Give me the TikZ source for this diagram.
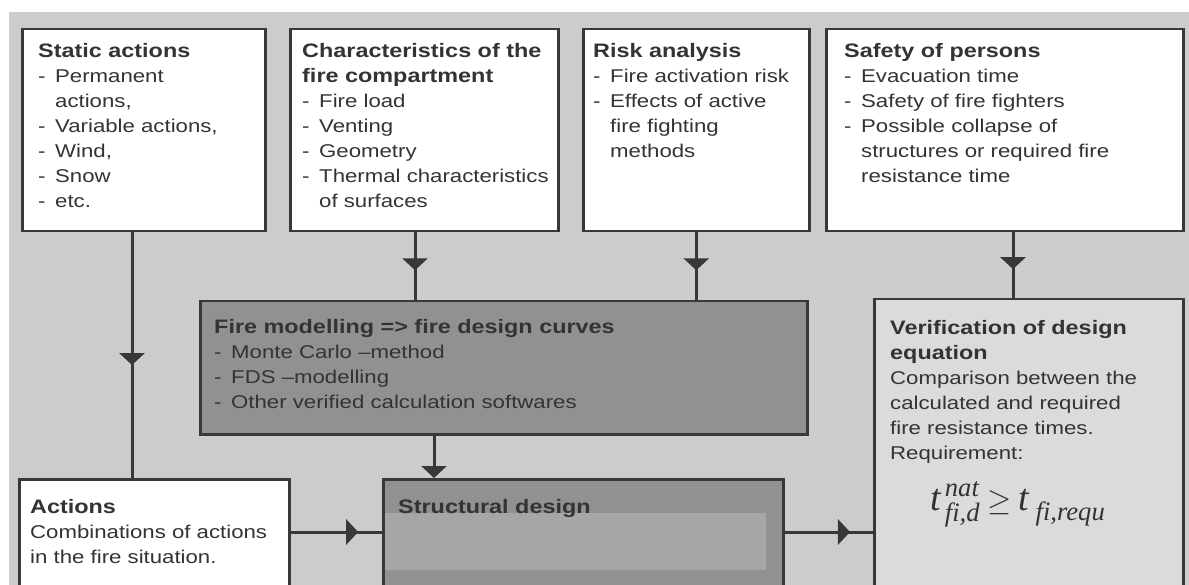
\documentclass[tikz,border=0pt]{standalone}
\usepackage{amsmath}
\usepackage{fontspec}
\setmainfont{Liberation Sans}[FakeStretch=1.2]
\newfontfamily\tmsfont{Liberation Serif}
\usetikzlibrary{arrows.meta,decorations.markings}

\definecolor{bgc}{gray}{0.80}
\definecolor{linec}{gray}{0.22}
\definecolor{txtc}{gray}{0.20}
\definecolor{firec}{gray}{0.57}
\definecolor{innerc}{gray}{0.65}
\definecolor{verifc}{gray}{0.86}

\newcommand{\itm}{\makebox[17pt][l]{-}}
\newcommand{\indt}{\hspace*{17pt}}
\newcommand{\ttl}[1]{{\fontsize{19.5}{25}\selectfont\bfseries #1}}
\newcommand{\fv}[1]{\text{\tmsfont\itshape #1}}
\newcommand{\lowsub}[1]{\lower5pt\hbox{$\scriptstyle\fv{#1}$}}
\newcommand{\highsup}[1]{\raise2pt\hbox{$\scriptstyle\fv{#1}$}}

\begin{document}
\begin{tikzpicture}[x=1pt,y=-1pt,
    box/.style={draw=linec, line width=2.5pt, fill=white, anchor=north west, inner sep=0pt},
    lbl/.style={anchor=north west, inner sep=0pt, align=left, text=txtc,
        font=\fontsize{18.5}{25}\selectfont},
    flow/.style={draw=linec, line width=3pt},
    midarrow/.style={postaction={decorate}, decoration={markings,
        mark=at position #1 with {\arrow{Triangle[length=12pt,width=25pt]}}}}]

    \useasboundingbox (0,0) rectangle (1189,585);
    \fill[white] (0,0) rectangle (1189,585);
    \clip (0,0) rectangle (1189,585);
    \fill[bgc] (9,12) rectangle (1189,585);

    % top row
    \node [box, minimum width=243pt, minimum height=202pt] (static) at (21,28) {};
    \node [lbl] (staticT) at (38,43) {\ttl{Static actions}\\ \itm Permanent\\ \indt actions,\\
        \itm Variable actions,\\ \itm Wind,\\ \itm Snow\\ \itm etc.};

    \node [box, minimum width=268pt, minimum height=202pt] (charac) at (289,28) {};
    \node [lbl] (characT) at (302,43) {\ttl{Characteristics of the}\\ \ttl{fire compartment}\\
        \itm Fire load\\ \itm Venting\\ \itm Geometry\\ \itm Thermal characteristics\\ \indt of surfaces};

    \node [box, minimum width=226pt, minimum height=202pt] (risk) at (582,28) {};
    \node [lbl] (riskT) at (593,43) {\ttl{Risk analysis}\\ \itm Fire activation risk\\
        \itm Effects of active\\ \indt fire fighting\\ \indt methods};

    \node [box, minimum width=357pt, minimum height=202pt] (safety) at (825,28) {};
    \node [lbl] (safetyT) at (844,43) {\ttl{Safety of persons}\\ \itm Evacuation time\\
        \itm Safety of fire fighters\\ \itm Possible collapse of\\ \indt structures or required fire\\
        \indt resistance time};

    % middle
    \node [box, fill=firec, minimum width=607pt, minimum height=133pt] (fire) at (199,300) {};
    \node [lbl] (fireT) at (214,319) {\ttl{Fire modelling => fire design curves}\\
        \itm Monte Carlo --method\\ \itm FDS --modelling\\ \itm Other verified calculation softwares};

    % bottom row
    \node [box, minimum width=270pt, minimum height=150pt] (actions) at (18,478) {};
    \node [lbl] (actionsT) at (30,499) {\ttl{Actions}\\ Combinations of actions\\ in the fire situation.};

    \node [box, fill=firec, minimum width=400pt, minimum height=150pt] (struct) at (382,478) {};
    \fill[innerc] (385,513) rectangle (766,570);
    \node [lbl] (structT) at (398,499) {\ttl{Structural design}};

    \node [box, fill=verifc, minimum width=309pt, minimum height=330pt] (verif) at (873,298) {};
    \node [lbl] (verifT) at (890,320) {\ttl{Verification of design}\\ \ttl{equation}\\
        Comparison between the\\ calculated and required\\ fire resistance times.\\ Requirement:};
    \node [anchor=base west, inner sep=0pt, text=txtc, font=\fontsize{38}{38}\selectfont]
        (formula) at (930,510)
        {$\fv{t}^{\,\highsup{nat}}_{\,\lowsub{fi,d}}\mathrel{\scalebox{1.25}{$\geq$}}\fv{t}_{\;\lowsub{fi,requ}}$};

    % connectors
    \coordinate (c1) at ([xshift=111pt]static.south west);
    \coordinate (c2) at ([xshift=126pt]charac.south west);
    \coordinate (c3) at ([xshift=188pt]safety.south west);
    \coordinate (c4) at ([xshift=235pt]fire.south west);
    \coordinate (c5) at ([yshift=-54pt]actions.north east);
    \coordinate (c6) at ([yshift=-54pt]struct.north east);

    \draw [flow, midarrow=0.54] (c1) -- (c1 |- actions.north);
    \draw [flow, midarrow=0.56] (c2) -- (c2 |- fire.north);
    \draw [flow, midarrow=0.56] (risk.south) -- (risk.south |- fire.north);
    \draw [flow, midarrow=0.56] (c3) -- (c3 |- verif.north);
    \draw [flow, -{Triangle[length=12pt,width=25pt]}] (c4) -- (c4 |- struct.north);
    \draw [flow, midarrow=0.74] (c5) -- (c5 -| struct.west);
    \draw [flow, midarrow=0.74] (c6) -- (c6 -| verif.west);

\end{tikzpicture}
\end{document}
